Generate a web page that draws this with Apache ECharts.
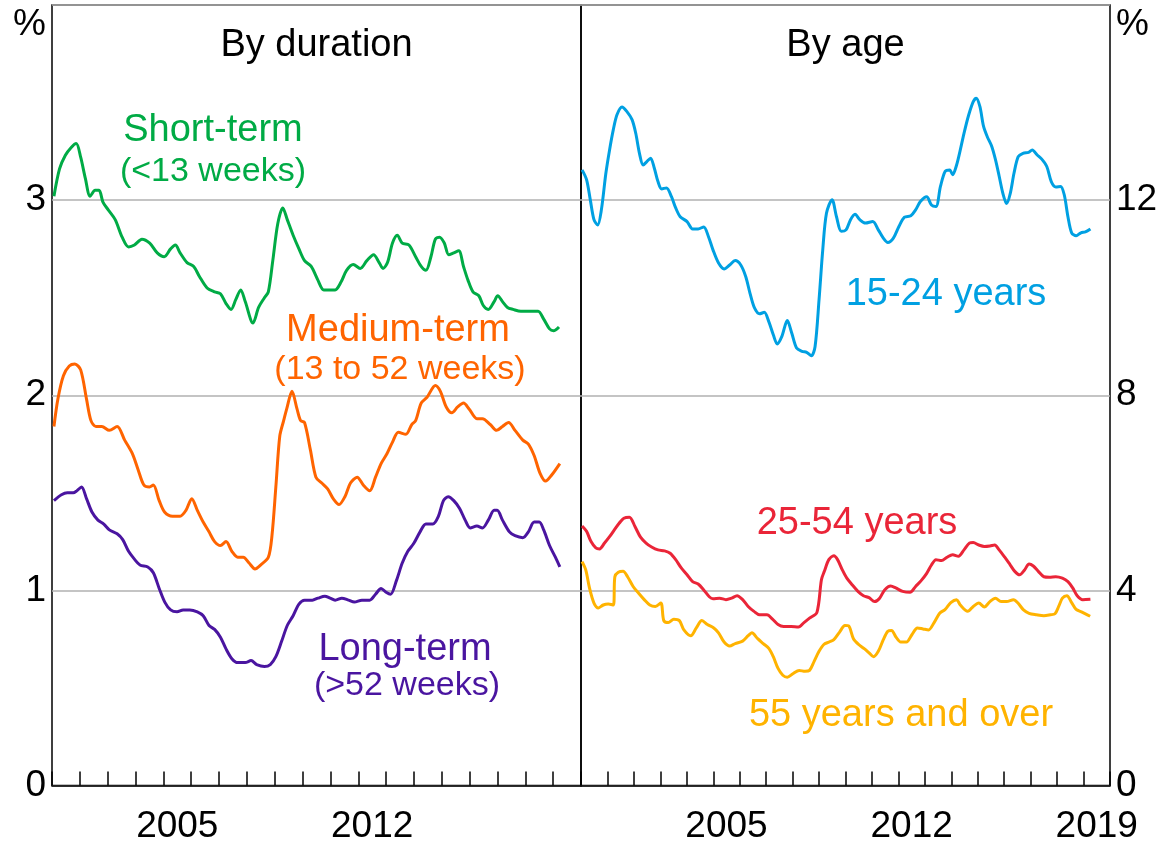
<!DOCTYPE html>
<html>
<head>
<meta charset="utf-8">
<script src="https://cdn.jsdelivr.net/npm/echarts@6/dist/echarts.min.js"></script>
<style>
html,body{margin:0;padding:0;background:#fff;}
#chart{width:1161px;height:846px;}
</style>
</head>
<body>
<div id="chart"></div>
<script>
// ---- Data (decimal year, per cent) ----
const leftYears = ['2001','2002','2003','2004','2005','2006','2007','2008','2009','2010','2011','2012','2013','2014','2015','2016','2017','2018','2019'];
const rightYears = ['2000','2001','2002','2003','2004','2005','2006','2007','2008','2009','2010','2011','2012','2013','2014','2015','2016','2017','2018','2019'];
const leftTickLabels = ['2005','2012'];
const rightTickLabels = ['2005','2012','2019'];
const leftYTicks = [0,1,2,3];
const rightYTicks = [0,4,8,12];

const shortTerm = [[2001.07,3.02],[2001.27,3.16],[2001.48,3.23],[2001.69,3.27],[2001.87,3.29],[2002.03,3.22],[2002.20,3.11],[2002.37,3.02],[2002.55,3.05],[2002.69,3.05],[2002.83,2.99],[2003.02,2.95],[2003.27,2.90],[2003.52,2.81],[2003.75,2.76],[2003.96,2.77],[2004.23,2.80],[2004.51,2.78],[2004.78,2.73],[2005.03,2.71],[2005.26,2.75],[2005.43,2.77],[2005.60,2.73],[2005.85,2.68],[2006.09,2.66],[2006.29,2.61],[2006.57,2.55],[2006.84,2.53],[2007.05,2.52],[2007.25,2.47],[2007.43,2.44],[2007.60,2.49],[2007.78,2.54],[2007.94,2.48],[2008.22,2.37],[2008.42,2.45],[2008.63,2.50],[2008.77,2.53],[2008.93,2.69],[2009.11,2.88],[2009.29,2.96],[2009.45,2.90],[2009.66,2.82],[2009.87,2.75],[2010.07,2.69],[2010.31,2.66],[2010.55,2.59],[2010.76,2.54],[2010.97,2.54],[2011.17,2.54],[2011.38,2.58],[2011.58,2.64],[2011.82,2.67],[2012.07,2.65],[2012.31,2.69],[2012.55,2.72],[2012.75,2.68],[2012.89,2.65],[2013.05,2.68],[2013.23,2.78],[2013.40,2.82],[2013.58,2.78],[2013.82,2.77],[2014.06,2.71],[2014.26,2.66],[2014.43,2.64],[2014.61,2.71],[2014.77,2.80],[2014.92,2.81],[2015.09,2.78],[2015.25,2.72],[2015.43,2.73],[2015.61,2.74],[2015.78,2.66],[2015.94,2.59],[2016.12,2.53],[2016.33,2.51],[2016.49,2.46],[2016.67,2.44],[2016.88,2.48],[2017.01,2.51],[2017.18,2.48],[2017.36,2.45],[2017.56,2.44],[2017.84,2.43],[2018.18,2.43],[2018.46,2.43],[2018.66,2.39],[2018.87,2.34],[2019.01,2.33],[2019.21,2.35]];

const mediumTerm = [[2001.07,1.84],[2001.21,1.98],[2001.41,2.10],[2001.62,2.15],[2001.82,2.16],[2002.03,2.13],[2002.24,1.98],[2002.40,1.87],[2002.58,1.84],[2002.79,1.84],[2003.06,1.82],[2003.34,1.84],[2003.61,1.77],[2003.89,1.70],[2004.09,1.62],[2004.30,1.54],[2004.50,1.53],[2004.64,1.54],[2004.85,1.46],[2005.05,1.40],[2005.33,1.38],[2005.60,1.38],[2005.81,1.41],[2006.02,1.47],[2006.22,1.41],[2006.43,1.35],[2006.64,1.30],[2006.84,1.25],[2007.05,1.23],[2007.25,1.25],[2007.46,1.20],[2007.67,1.17],[2007.87,1.17],[2008.08,1.14],[2008.29,1.11],[2008.49,1.13],[2008.77,1.17],[2008.90,1.28],[2009.04,1.53],[2009.18,1.79],[2009.32,1.87],[2009.43,1.93],[2009.62,2.02],[2009.80,1.93],[2009.93,1.87],[2010.07,1.86],[2010.28,1.72],[2010.48,1.58],[2010.69,1.55],[2010.90,1.52],[2011.10,1.47],[2011.31,1.44],[2011.52,1.48],[2011.72,1.55],[2011.96,1.58],[2012.18,1.54],[2012.41,1.51],[2012.62,1.58],[2012.82,1.65],[2013.03,1.70],[2013.23,1.76],[2013.44,1.81],[2013.71,1.80],[2013.92,1.85],[2014.06,1.87],[2014.26,1.96],[2014.47,1.99],[2014.77,2.05],[2014.95,2.02],[2015.16,1.94],[2015.36,1.91],[2015.57,1.94],[2015.78,1.96],[2015.98,1.93],[2016.26,1.88],[2016.46,1.88],[2016.74,1.85],[2016.97,1.82],[2017.18,1.84],[2017.40,1.86],[2017.63,1.82],[2017.91,1.77],[2018.11,1.75],[2018.32,1.69],[2018.53,1.60],[2018.73,1.56],[2018.94,1.59],[2019.24,1.65]];

const longTerm = [[2001.07,1.46],[2001.34,1.49],[2001.55,1.50],[2001.76,1.50],[2001.89,1.51],[2002.06,1.53],[2002.24,1.47],[2002.44,1.40],[2002.65,1.36],[2002.86,1.34],[2003.06,1.31],[2003.34,1.29],[2003.54,1.26],[2003.75,1.20],[2003.96,1.16],[2004.16,1.13],[2004.44,1.12],[2004.64,1.09],[2004.85,1.01],[2005.05,0.94],[2005.26,0.90],[2005.49,0.89],[2005.71,0.90],[2005.95,0.90],[2006.22,0.89],[2006.43,0.87],[2006.64,0.82],[2006.84,0.80],[2007.05,0.76],[2007.25,0.70],[2007.46,0.65],[2007.67,0.63],[2007.94,0.63],[2008.15,0.64],[2008.35,0.62],[2008.63,0.61],[2008.84,0.62],[2009.04,0.66],[2009.25,0.74],[2009.45,0.82],[2009.66,0.87],[2009.87,0.93],[2010.07,0.95],[2010.35,0.95],[2010.55,0.96],[2010.80,0.97],[2010.99,0.96],[2011.17,0.95],[2011.41,0.96],[2011.65,0.95],[2011.86,0.94],[2012.13,0.95],[2012.41,0.95],[2012.62,0.98],[2012.82,1.01],[2013.00,0.99],[2013.16,0.98],[2013.37,1.05],[2013.58,1.14],[2013.78,1.20],[2013.99,1.24],[2014.22,1.30],[2014.43,1.34],[2014.68,1.34],[2014.88,1.38],[2015.06,1.46],[2015.23,1.48],[2015.43,1.46],[2015.64,1.42],[2015.84,1.36],[2016.02,1.32],[2016.26,1.33],[2016.46,1.32],[2016.67,1.36],[2016.88,1.41],[2016.99,1.41],[2017.18,1.36],[2017.43,1.30],[2017.63,1.28],[2017.91,1.27],[2018.11,1.30],[2018.32,1.35],[2018.50,1.35],[2018.66,1.31],[2018.87,1.23],[2019.08,1.17],[2019.24,1.12]];

const age15to24 = [[2000.04,12.62],[2000.21,12.42],[2000.35,12.01],[2000.49,11.60],[2000.63,11.49],[2000.77,11.80],[2000.94,12.55],[2001.08,13.03],[2001.22,13.44],[2001.36,13.75],[2001.55,13.91],[2001.73,13.82],[2001.93,13.65],[2002.07,13.37],[2002.21,12.96],[2002.35,12.72],[2002.49,12.79],[2002.63,12.86],[2002.77,12.66],[2002.91,12.38],[2003.05,12.23],[2003.23,12.25],[2003.42,12.07],[2003.58,11.84],[2003.75,11.66],[2004.01,11.56],[2004.22,11.41],[2004.43,11.41],[2004.64,11.45],[2004.82,11.25],[2004.99,10.98],[2005.20,10.71],[2005.41,10.59],[2005.62,10.67],[2005.83,10.76],[2006.04,10.67],[2006.23,10.43],[2006.39,10.09],[2006.56,9.79],[2006.75,9.67],[2006.93,9.70],[2007.10,9.51],[2007.27,9.24],[2007.42,9.05],[2007.59,9.20],[2007.80,9.53],[2007.97,9.27],[2008.15,8.97],[2008.36,8.90],[2008.53,8.88],[2008.71,8.81],[2008.85,9.00],[2009.00,9.96],[2009.14,10.98],[2009.28,11.73],[2009.49,12.01],[2009.66,11.66],[2009.84,11.36],[2010.02,11.39],[2010.19,11.60],[2010.36,11.71],[2010.54,11.60],[2010.75,11.53],[2011.03,11.56],[2011.24,11.39],[2011.43,11.22],[2011.60,11.13],[2011.81,11.22],[2012.02,11.46],[2012.23,11.65],[2012.47,11.68],[2012.65,11.80],[2012.83,11.97],[2013.07,12.07],[2013.25,11.90],[2013.42,11.87],[2013.59,12.28],[2013.77,12.59],[2013.94,12.62],[2014.05,12.52],[2014.20,12.72],[2014.34,13.03],[2014.48,13.37],[2014.66,13.75],[2014.83,14.02],[2014.94,14.09],[2015.08,13.92],[2015.22,13.51],[2015.36,13.30],[2015.53,13.10],[2015.67,12.83],[2015.81,12.49],[2015.95,12.14],[2016.09,11.93],[2016.23,12.14],[2016.37,12.55],[2016.53,12.89],[2016.71,12.96],[2016.92,12.98],[2017.06,13.03],[2017.24,12.93],[2017.42,12.84],[2017.61,12.69],[2017.78,12.38],[2017.95,12.27],[2018.13,12.28],[2018.27,12.11],[2018.41,11.66],[2018.55,11.33],[2018.72,11.27],[2018.90,11.33],[2019.07,11.35],[2019.26,11.41]];

const age25to54 = [[2000.04,5.32],[2000.21,5.21],[2000.38,5.00],[2000.56,4.87],[2000.70,4.85],[2000.89,4.97],[2001.08,5.10],[2001.26,5.24],[2001.45,5.38],[2001.62,5.48],[2001.83,5.50],[2002.04,5.31],[2002.25,5.09],[2002.46,4.97],[2002.67,4.89],[2002.91,4.83],[2003.16,4.81],[2003.37,4.76],[2003.58,4.63],[2003.79,4.46],[2004.01,4.32],[2004.22,4.18],[2004.43,4.13],[2004.64,4.01],[2004.85,3.87],[2004.99,3.83],[2005.24,3.84],[2005.48,3.81],[2005.69,3.84],[2005.90,3.89],[2006.11,3.81],[2006.32,3.67],[2006.54,3.57],[2006.75,3.50],[2007.03,3.50],[2007.24,3.41],[2007.45,3.30],[2007.66,3.26],[2007.94,3.26],[2008.22,3.25],[2008.43,3.34],[2008.64,3.43],[2008.92,3.55],[2009.09,4.22],[2009.20,4.39],[2009.37,4.63],[2009.56,4.71],[2009.70,4.63],[2009.88,4.42],[2010.05,4.25],[2010.26,4.11],[2010.47,3.98],[2010.68,3.89],[2010.89,3.85],[2011.10,3.77],[2011.29,3.84],[2011.48,4.01],[2011.71,4.09],[2011.90,4.05],[2012.16,3.98],[2012.44,3.96],[2012.65,4.08],[2012.86,4.20],[2013.07,4.35],[2013.25,4.52],[2013.42,4.63],[2013.63,4.61],[2013.84,4.68],[2014.05,4.73],[2014.27,4.70],[2014.48,4.83],[2014.69,4.97],[2014.83,4.98],[2015.04,4.93],[2015.25,4.90],[2015.46,4.91],[2015.64,4.93],[2015.81,4.83],[2016.02,4.68],[2016.23,4.52],[2016.40,4.39],[2016.58,4.32],[2016.77,4.42],[2016.94,4.54],[2017.10,4.50],[2017.29,4.39],[2017.50,4.28],[2017.71,4.27],[2017.95,4.28],[2018.20,4.25],[2018.41,4.18],[2018.59,4.05],[2018.76,3.89],[2018.97,3.81],[2019.26,3.82]];

const age55plus = [[2000.04,4.59],[2000.18,4.42],[2000.32,4.05],[2000.49,3.74],[2000.66,3.64],[2000.84,3.70],[2001.03,3.72],[2001.22,3.70],[2001.28,4.28],[2001.41,4.37],[2001.59,4.39],[2001.76,4.28],[2001.97,4.08],[2002.18,3.94],[2002.39,3.81],[2002.60,3.70],[2002.81,3.67],[2003.02,3.74],[2003.13,3.38],[2003.30,3.34],[2003.51,3.41],[2003.72,3.38],[2003.89,3.19],[2004.15,3.07],[2004.36,3.23],[2004.57,3.38],[2004.78,3.30],[2005.02,3.23],[2005.20,3.13],[2005.41,2.94],[2005.62,2.86],[2005.83,2.91],[2006.11,2.96],[2006.32,3.07],[2006.46,3.13],[2006.68,3.01],[2006.89,2.91],[2007.10,2.81],[2007.27,2.64],[2007.45,2.40],[2007.63,2.26],[2007.80,2.22],[2008.01,2.29],[2008.25,2.36],[2008.47,2.34],[2008.64,2.36],[2008.81,2.54],[2009.00,2.75],[2009.18,2.89],[2009.37,2.94],[2009.56,2.99],[2009.77,3.14],[2009.98,3.28],[2010.12,3.27],[2010.30,3.01],[2010.50,2.89],[2010.72,2.80],[2010.89,2.72],[2011.06,2.64],[2011.24,2.75],[2011.43,2.99],[2011.60,3.16],[2011.74,3.18],[2011.90,3.05],[2012.09,2.94],[2012.30,2.94],[2012.51,3.09],[2012.72,3.23],[2012.93,3.21],[2013.14,3.19],[2013.35,3.34],[2013.56,3.53],[2013.77,3.61],[2013.98,3.75],[2014.20,3.81],[2014.34,3.70],[2014.62,3.57],[2014.83,3.67],[2015.04,3.74],[2015.25,3.66],[2015.46,3.77],[2015.67,3.84],[2015.88,3.77],[2016.09,3.77],[2016.35,3.81],[2016.52,3.74],[2016.73,3.60],[2016.94,3.53],[2017.22,3.50],[2017.50,3.48],[2017.75,3.50],[2017.92,3.52],[2018.06,3.67],[2018.20,3.84],[2018.37,3.89],[2018.55,3.75],[2018.72,3.61],[2018.92,3.56],[2019.25,3.47]];

// ---- Styling ----
const FONT = '"Liberation Sans", Arial, Helvetica, sans-serif';
const C = {
  green: '#00ab45', orange: '#ff6400', purple: '#4a15a0',
  blue: '#00a0e2', red: '#ea2538', yellow: '#ffb300'
};
const GRID_TOP = 5, GRID_H = 780.5, PANEL_W = 529;

const chart = echarts.init(document.getElementById('chart'), null, {renderer: 'canvas'});

function catAxis(grid, years, labels) {
  return {
    type: 'category', gridIndex: grid, data: years, boundaryGap: true,
    axisLine: {show: true, lineStyle: {color: '#000', width: 1.5}},
    axisTick: {show: true, inside: true, length: 14, interval: 0, lineStyle: {color: '#000', width: 1.5}},
    axisLabel: {
      show: true, interval: (i, v) => labels.includes(v),
      color: '#000', fontSize: 37, fontFamily: FONT, margin: 23
    },
    splitLine: {show: false}
  };
}
function valXAxis(grid, min, max) {
  return {type: 'value', gridIndex: grid, min: min, max: max, show: false};
}
function yAxis(grid, max, interval, pos, ticks) {
  return {
    type: 'value', gridIndex: grid, min: 0, max: max, interval: interval, position: pos,
    axisLine: {show: false}, axisTick: {show: false},
    axisLabel: {
      color: '#000', fontSize: 37, fontFamily: FONT, margin: 6,
      formatter: v => ticks.includes(v) ? String(v) : ''
    },
    splitLine: {show: true, lineStyle: {color: '#b0b0b0', width: 1.5}}
  };
}
function line(name, data, color, xi, yi) {
  return {
    name: name, type: 'line', data: data, xAxisIndex: xi, yAxisIndex: yi,
    showSymbol: false, smooth: 0.3, lineStyle: {color: color, width: 3},
    itemStyle: {color: color}, z: 3, silent: true, animation: false
  };
}
function txt(text, x, y, color, size, align) {
  return {
    type: 'text', x: x, y: y, silent: true, z: 10,
    style: {text: text, fill: color, font: size + 'px ' + FONT, align: align || 'center', verticalAlign: 'middle'}
  };
}

const option = {
  animation: false,
  backgroundColor: '#fff',
  grid: [
    {left: 52, top: GRID_TOP, width: PANEL_W, height: GRID_H, show: true, borderColor: '#000', borderWidth: 1.5, backgroundColor: 'transparent'},
    {left: 52 + PANEL_W, top: GRID_TOP, width: PANEL_W, height: GRID_H, show: true, borderColor: '#000', borderWidth: 1.5, backgroundColor: 'transparent'}
  ],
  xAxis: [
    catAxis(0, leftYears, leftTickLabels),
    valXAxis(0, 2001, 2020),
    catAxis(1, rightYears, rightTickLabels),
    valXAxis(1, 2000, 2020)
  ],
  yAxis: [
    yAxis(0, 4, 1, 'left', leftYTicks),
    yAxis(1, 16, 4, 'right', rightYTicks)
  ],
  series: [
    line('Short-term', shortTerm, C.green, 1, 0),
    line('Medium-term', mediumTerm, C.orange, 1, 0),
    line('Long-term', longTerm, C.purple, 1, 0),
    line('15-24 years', age15to24, C.blue, 3, 1),
    line('25-54 years', age25to54, C.red, 3, 1),
    line('55 years and over', age55plus, C.yellow, 3, 1)
  ],
  graphic: [
    txt('%', 46, 25, '#000', 37, 'right'),
    txt('%', 1116, 25, '#000', 37, 'left'),
    txt('By duration', 316.5, 46, '#000', 38),
    txt('By age', 845.5, 46, '#000', 38),
    txt('Short-term', 213, 131, C.green, 38),
    txt('(<13 weeks)', 213, 172, C.green, 34),
    txt('Medium-term', 398, 331, C.orange, 38),
    txt('(13 to 52 weeks)', 400, 370, C.orange, 34),
    txt('Long-term', 405, 650, C.purple, 38),
    txt('(>52 weeks)', 407, 686, C.purple, 34),
    txt('15-24 years', 946, 295, C.blue, 38),
    txt('25-54 years', 857, 524, C.red, 38),
    txt('55 years and over', 901, 716, C.yellow, 38)
  ]
};
chart.setOption(option);
</script>
</body>
</html>
